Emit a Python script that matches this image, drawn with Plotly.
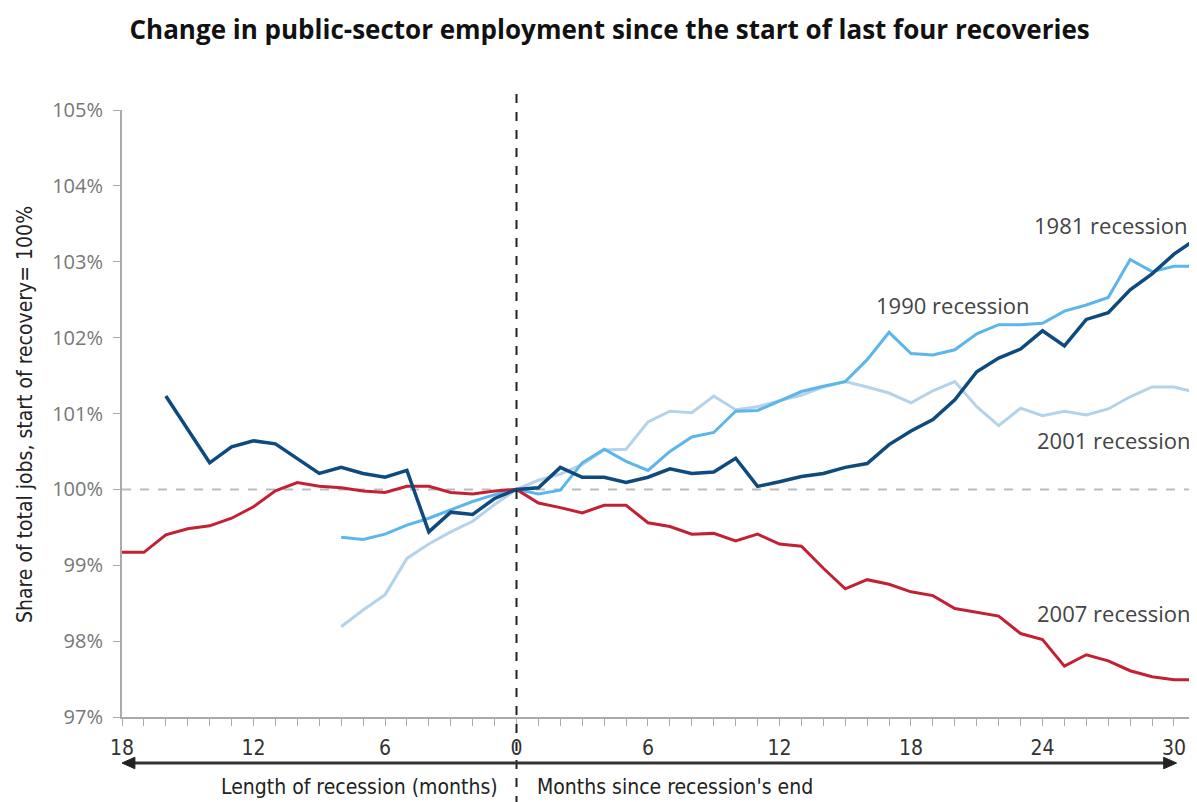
import plotly.graph_objects as go

# ---- data ----
months_1981 = list(range(-16, 32))
vals_1981 = [101.23, 100.80, 100.35, 100.56, 100.64, 100.60, 100.40, 100.21, 100.29, 100.21,
             100.16, 100.25, 99.44, 99.70, 99.67, 99.88, 100.00,
             100.02, 100.29, 100.16, 100.16, 100.09, 100.16, 100.27, 100.21, 100.23, 100.41,
             100.04, 100.10, 100.17, 100.21, 100.29, 100.34, 100.59, 100.77, 100.92, 101.18,
             101.55, 101.73, 101.85, 102.09, 101.89, 102.24, 102.33, 102.63, 102.84, 103.10, 103.30]

months_1990 = list(range(-8, 32))
vals_1990 = [99.37, 99.34, 99.41, 99.53, 99.62, 99.73, 99.84, 99.93, 100.00,
             99.94, 99.99, 100.35, 100.53, 100.37, 100.25, 100.50, 100.69, 100.75, 101.03,
             101.04, 101.17, 101.29, 101.36, 101.42, 101.71, 102.07, 101.79, 101.77, 101.84,
             102.05, 102.17, 102.17, 102.19, 102.35, 102.43, 102.53, 103.03, 102.87, 102.94, 102.94]

months_2001 = list(range(-8, 32))
vals_2001 = [98.19, 98.41, 98.61, 99.09, 99.28, 99.44, 99.58, 99.80, 100.00,
             100.12, 100.20, 100.33, 100.52, 100.53, 100.89, 101.03, 101.01, 101.23, 101.05,
             101.09, 101.17, 101.24, 101.35, 101.42, 101.35, 101.27, 101.14, 101.30, 101.42,
             101.09, 100.84, 101.07, 100.97, 101.03, 100.98, 101.06, 101.22, 101.35, 101.35, 101.28]

months_2007 = list(range(-18, 32))
vals_2007 = [99.17, 99.17, 99.40, 99.48, 99.52, 99.62, 99.77, 99.98, 100.09, 100.04,
             100.02, 99.98, 99.96, 100.04, 100.04, 99.96, 99.94, 99.98, 100.00,
             99.82, 99.76, 99.69, 99.79, 99.79, 99.56, 99.51, 99.41, 99.42, 99.32,
             99.41, 99.28, 99.25, 98.96, 98.69, 98.81, 98.75, 98.65, 98.60, 98.43,
             98.38, 98.33, 98.10, 98.02, 97.67, 97.82, 97.74, 97.61, 97.53, 97.49, 97.49]

x_tick_vals = list(range(-18, 32))
x_tick_text = [str(abs(v)) if v % 6 == 0 else "" for v in x_tick_vals]
y_tick_vals = [97, 98, 99, 100, 101, 102, 103, 104, 105]
y_tick_text = ["97%", "98%", "99%", "100%", "101%", "102%", "103%", "104%", "105%"]

series_labels = ["1981 recession", "1990 recession", "2001 recession", "2007 recession"]
label_x = [30.75, 19.9, 30.85, 30.85]
label_y = [103.48, 102.43, 100.65, 98.37]

NARROW = "Liberation Sans Narrow, DejaVu Sans Condensed, Arial Narrow, sans-serif"
SANS = "Open Sans, Noto Sans, sans-serif"

fig = go.Figure()
fig.add_trace(go.Scatter(x=months_2001, y=vals_2001, mode="lines",
                         line=dict(color="#b4d3ea", width=3), name="2001"))
fig.add_trace(go.Scatter(x=months_1990, y=vals_1990, mode="lines",
                         line=dict(color="#5cb6ea", width=3), name="1990"))
fig.add_trace(go.Scatter(x=months_2007, y=vals_2007, mode="lines",
                         line=dict(color="#c42034", width=3), name="2007"))
fig.add_trace(go.Scatter(x=months_1981, y=vals_1981, mode="lines",
                         line=dict(color="#0f4a7e", width=3.5), name="1981"))

# reference lines
fig.add_shape(type="line", xref="x", yref="y", x0=-18, x1=31.1, y0=100, y1=100,
              line=dict(color="#bbbbbb", width=2, dash="dash"), layer="below")
fig.add_shape(type="line", xref="x", yref="paper", x0=0, x1=0, y0=-0.145, y1=1.04,
              line=dict(color="#222222", width=2, dash="dash"))

# double arrow below axis
ay = -0.0758
fig.add_shape(type="line", xref="paper", yref="paper", x0=0.008, x1=0.973, y0=ay, y1=ay,
              line=dict(color="#333333", width=3))
fig.add_shape(type="path", xref="paper", yref="paper",
              path=f"M 0,{ay} L 0.012,{ay+0.0095} L 0.012,{ay-0.0095} Z",
              fillcolor="#222222", line=dict(color="#222222", width=1))
fig.add_shape(type="path", xref="paper", yref="paper",
              path=f"M 0.981,{ay} L 0.969,{ay+0.0095} L 0.969,{ay-0.0095} Z",
              fillcolor="#222222", line=dict(color="#222222", width=1))

fig.add_annotation(text="Length of recession (months)", xref="paper", yref="paper",
                   x=0.352, y=-0.115, xanchor="right", yanchor="middle", showarrow=False,
                   font=dict(family=NARROW, size=21, color="#222222"))
fig.add_annotation(text="Months since recession's end", xref="paper", yref="paper",
                   x=0.384, y=-0.115, xanchor="left", yanchor="middle", showarrow=False,
                   font=dict(family=NARROW, size=21, color="#222222"))

# y-axis title
fig.add_annotation(text="Share of total jobs, start of recovery= 100%", xref="paper", yref="paper",
                   x=-0.0902, y=0.4975, xanchor="center", yanchor="middle", textangle=-90,
                   showarrow=False, font=dict(family=NARROW, size=21, color="#222222"))

# series labels
anchors = ["right", "center", "right", "right"]
for t, lx, ly, a in zip(series_labels, label_x, label_y, anchors):
    fig.add_annotation(text=t, x=lx, y=ly, xref="x", yref="y", xanchor=a, yanchor="middle",
                       showarrow=False, font=dict(family=SANS, size=22, color="#444444"))

# page body has an 8px margin: figure spans window x 8..1197, y 8..802
fig.update_layout(
    width=1189, height=794,
    paper_bgcolor="white", plot_bgcolor="white",
    margin=dict(l=114, r=0, t=102, b=85),
    showlegend=False,
    title=dict(text="<b>Change in public-sector employment since the start of last four recoveries</b>",
               x=0.506, xanchor="center", y=0.972, yanchor="middle",
               font=dict(family=SANS, size=26, color="#111111")),
    xaxis=dict(range=[-18, 31.05], tickvals=x_tick_vals, ticktext=x_tick_text,
               showgrid=False, zeroline=False, showline=True, linecolor="#aaaaaa", linewidth=2,
               ticks="outside", ticklen=7, tickcolor="#aaaaaa", tickwidth=1,
               tickfont=dict(family=NARROW, size=21, color="#333333"), ticklabelstandoff=4),
    yaxis=dict(range=[97, 105], tickvals=y_tick_vals, ticktext=y_tick_text,
               showgrid=False, zeroline=False, showline=True, linecolor="#aaaaaa", linewidth=2,
               ticks="outside", ticklen=7, tickcolor="#aaaaaa", tickwidth=1,
               tickfont=dict(family=SANS, size=20, color="#777777"), ticklabelstandoff=6),
)

fig.write_html("out.html")
